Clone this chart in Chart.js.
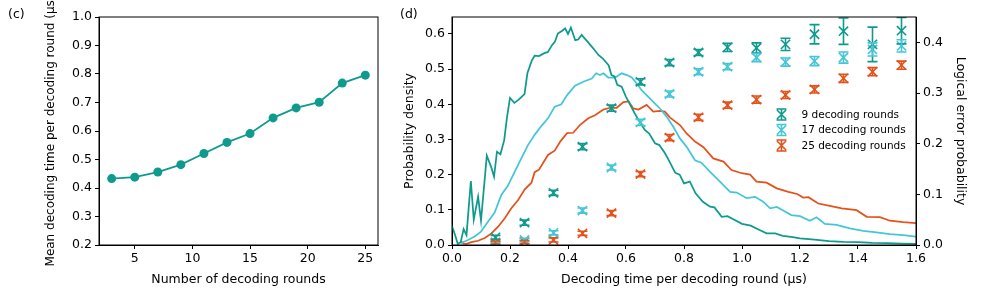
<!DOCTYPE html>
<html>
<head>
<meta charset="utf-8">
<script src="https://cdn.jsdelivr.net/npm/chart.js@4"></script>
<style>
  body { margin: 0; background: #fff; }
  #wrap { position: relative; width: 996px; height: 291px; }
  #c1 { position: absolute; left: 0; top: 0; }
  #c2 { position: absolute; left: 400px; top: 0; }
  .tag { position: absolute; top: 6px; font: 12.5px "DejaVu Sans"; color: #000; }
</style>
</head>
<body>
<div id="wrap">
  <canvas id="c1" width="400" height="291"></canvas>
  <canvas id="c2" width="596" height="291"></canvas>
  <div class="tag" style="left:8px">(c)</div>
  <div class="tag" style="left:400px">(d)</div>
</div>
<script>
// panel (c)
const rounds = [3, 5, 7, 9, 11, 13, 15, 17, 19, 21, 23, 25];
const meanTime = [0.433, 0.438, 0.456, 0.482, 0.521, 0.560, 0.591, 0.646, 0.681, 0.701, 0.768, 0.796];
const roundTicks = [5, 10, 15, 20, 25];
const meanTicks = [0.2, 0.3, 0.4, 0.5, 0.6, 0.7, 0.8, 0.9, 1.0];

// panel (d): density curves
const times9 = [0.00,0.01,0.02,0.03,0.04,0.05,0.065,0.075,0.09,0.10,0.12,0.135,0.145,0.155,0.167,0.18,0.19,0.20,0.215,0.23,0.25,0.26,0.275,0.285,0.30,0.32,0.33,0.345,0.355,0.365,0.38,0.39,0.40,0.41,0.425,0.435,0.447,0.465,0.487,0.505,0.52,0.54,0.55,0.56,0.57,0.585,0.60,0.615,0.63,0.65,0.665,0.68,0.70,0.715,0.735,0.75,0.77,0.785,0.80,0.82,0.84,0.865,0.89,0.905,0.93,0.95,0.97,1.00,1.03,1.055,1.085,1.115,1.14,1.17,1.20,1.25,1.30,1.35,1.40,1.45,1.50,1.55,1.60];
const dens9 = [0.054,0.030,0.003,0.008,0.045,0.028,0.182,0.072,0.137,0.069,0.254,0.222,0.194,0.265,0.258,0.298,0.365,0.418,0.404,0.413,0.429,0.488,0.524,0.538,0.537,0.546,0.548,0.568,0.578,0.601,0.609,0.616,0.600,0.618,0.582,0.584,0.597,0.580,0.559,0.540,0.530,0.511,0.483,0.479,0.455,0.450,0.421,0.398,0.374,0.346,0.327,0.317,0.289,0.284,0.260,0.237,0.205,0.200,0.175,0.180,0.147,0.123,0.109,0.107,0.080,0.082,0.073,0.060,0.055,0.045,0.033,0.033,0.026,0.023,0.019,0.015,0.011,0.009,0.008,0.006,0.005,0.004,0.003];
const times17 = [0.03,0.055,0.078,0.10,0.124,0.147,0.17,0.193,0.216,0.239,0.262,0.285,0.308,0.331,0.354,0.377,0.397,0.424,0.453,0.482,0.497,0.51,0.522,0.539,0.563,0.585,0.603,0.62,0.637,0.654,0.671,0.694,0.717,0.74,0.763,0.786,0.809,0.838,0.86,0.89,0.924,0.959,0.982,1.016,1.045,1.073,1.097,1.12,1.148,1.17,1.2,1.234,1.257,1.286,1.326,1.372,1.418,1.464,1.51,1.556,1.6];
const dens17 = [0.005,0.014,0.024,0.038,0.066,0.092,0.142,0.169,0.208,0.246,0.284,0.313,0.338,0.36,0.393,0.40,0.426,0.453,0.464,0.473,0.488,0.483,0.488,0.476,0.476,0.488,0.483,0.476,0.459,0.44,0.426,0.407,0.388,0.365,0.336,0.303,0.279,0.241,0.234,0.208,0.18,0.151,0.149,0.133,0.137,0.123,0.104,0.108,0.095,0.085,0.082,0.069,0.079,0.06,0.057,0.047,0.04,0.036,0.031,0.028,0.024];
const times25 = [0.03,0.04,0.05,0.067,0.09,0.113,0.136,0.159,0.182,0.204,0.228,0.251,0.274,0.285,0.30,0.331,0.354,0.375,0.397,0.418,0.441,0.47,0.493,0.522,0.545,0.568,0.591,0.609,0.625,0.643,0.671,0.694,0.717,0.734,0.752,0.786,0.809,0.838,0.867,0.901,0.936,0.964,0.999,1.028,1.05,1.085,1.12,1.16,1.19,1.211,1.229,1.263,1.303,1.344,1.395,1.43,1.476,1.51,1.556,1.6];
const dens25 = [0.012,0.004,0.003,0.008,0.012,0.02,0.033,0.052,0.076,0.104,0.128,0.158,0.177,0.207,0.214,0.256,0.268,0.296,0.318,0.319,0.341,0.36,0.369,0.385,0.39,0.39,0.406,0.408,0.388,0.385,0.398,0.379,0.381,0.379,0.362,0.341,0.317,0.294,0.278,0.246,0.237,0.213,0.204,0.2,0.18,0.177,0.161,0.151,0.145,0.135,0.136,0.118,0.111,0.104,0.099,0.08,0.079,0.069,0.065,0.062];

// panel (d): logical error probability per time bin
const binCenters = [0.15,0.25,0.35,0.45,0.55,0.65,0.75,0.85,0.95,1.05,1.15,1.25,1.35,1.45,1.55];
const lep9 = [0.015,0.044,0.103,0.194,0.270,0.322,0.360,0.380,0.390,0.389,0.396,0.416,0.422,0.396,0.423];
const lep17 = [0.003,0.010,0.024,0.068,0.153,0.242,0.298,0.342,0.352,0.370,0.361,0.363,0.370,0.386,0.393];
const lep25 = [0.005,0.006,0.010,0.023,0.063,0.140,0.212,0.252,0.276,0.287,0.296,0.307,0.329,0.342,0.355];
const lepErr9 = [0.004,0.005,0.005,0.006,0.006,0.006,0.006,0.006,0.008,0.010,0.012,0.019,0.026,0.034,0.026];
const lepErr17 = [0.002,0.003,0.004,0.005,0.005,0.006,0.006,0.006,0.006,0.008,0.008,0.009,0.011,0.013,0.012];
const lepErr25 = [0.003,0.003,0.004,0.004,0.005,0.005,0.006,0.006,0.006,0.007,0.007,0.007,0.008,0.008,0.008];
const timeTicks = [0, 0.2, 0.4, 0.6, 0.8, 1.0, 1.2, 1.4, 1.6];
const densTicks = [0, 0.1, 0.2, 0.3, 0.4, 0.5, 0.6];
const lepTicks = [0, 0.1, 0.2, 0.3, 0.4];
const seriesNames = ["9 decoding rounds", "17 decoding rounds", "25 decoding rounds"];

const TEAL = "#0f9a8e", CYAN = "#45c6d8", ORANGE = "#e4521b";

Chart.defaults.font.family = "DejaVu Sans";
Chart.defaults.font.size = 12.5;
Chart.defaults.color = "#000";
Chart.defaults.animation = false;

const pairs = (xs, ys) => xs.map((x, i) => ({ x: x, y: ys[i] }));
const setTicks = arr => scale => { scale.ticks = arr.map(v => ({ value: v })); };

function axisStyle(extra) {
  return Object.assign({
    border: { display: true, color: "#000", width: 1 },
    grid: { drawOnChartArea: false, drawTicks: true, tickLength: 4, color: "#000" },
  }, extra);
}

// full frame like matplotlib spines
const frame = {
  id: "frame",
  afterDraw(chart) {
    const { ctx, chartArea: a } = chart;
    ctx.save();
    ctx.strokeStyle = "#000";
    ctx.lineWidth = 1;
    ctx.strokeRect(a.left, a.top, a.right - a.left, a.bottom - a.top);
    ctx.restore();
  }
};

function drawErrIcon(ctx, x, y, col) {
  ctx.strokeStyle = col;
  ctx.lineWidth = 1.6;
  ctx.beginPath();
  ctx.moveTo(x, y - 5.5); ctx.lineTo(x, y + 5.5);
  ctx.moveTo(x - 5, y - 5.5); ctx.lineTo(x + 5, y - 5.5);
  ctx.moveTo(x - 5, y + 5.5); ctx.lineTo(x + 5, y + 5.5);
  ctx.moveTo(x - 4.5, y - 4.5); ctx.lineTo(x + 4.5, y + 4.5);
  ctx.moveTo(x - 4.5, y + 4.5); ctx.lineTo(x + 4.5, y - 4.5);
  ctx.stroke();
}

const errorBars = {
  id: "errorBars",
  afterDatasetsDraw(chart) {
    const { ctx, chartArea: a } = chart;
    ctx.save();
    ctx.beginPath();
    ctx.rect(a.left, a.top, a.right - a.left, a.bottom - a.top);
    ctx.clip();
    chart.data.datasets.forEach((ds, i) => {
      if (!ds.errors) return;
      const ys = chart.scales[ds.yAxisID];
      const meta = chart.getDatasetMeta(i);
      ctx.strokeStyle = ds.borderColor;
      ctx.lineWidth = 1.6;
      meta.data.forEach((pt, j) => {
        const v = ds.data[j].y, e = ds.errors[j];
        const y1 = ys.getPixelForValue(v - e), y2 = ys.getPixelForValue(v + e);
        ctx.beginPath();
        ctx.moveTo(pt.x, y1); ctx.lineTo(pt.x, y2);
        ctx.moveTo(pt.x - 5, y1); ctx.lineTo(pt.x + 5, y1);
        ctx.moveTo(pt.x - 5, y2); ctx.lineTo(pt.x + 5, y2);
        ctx.stroke();
      });
    });
    ctx.restore();
  }
};

const legendBox = {
  id: "legendBox",
  afterDraw(chart) {
    const ctx = chart.ctx;
    const cols = [TEAL, CYAN, ORANGE];
    ctx.save();
    ctx.font = "10.5px 'DejaVu Sans'";
    ctx.textBaseline = "middle";
    ctx.fillStyle = "#000";
    seriesNames.forEach((name, i) => {
      const y = 114.5 + i * 15.5;
      drawErrIcon(ctx, 381.5, y, cols[i]);
      ctx.fillText(name, 401.5, y + 0.5);
    });
    ctx.restore();
  }
};

new Chart(document.getElementById("c1"), {
  type: "line",
  data: {
    datasets: [{
      data: pairs(rounds, meanTime),
      borderColor: TEAL,
      backgroundColor: TEAL,
      borderWidth: 1.75,
      pointRadius: 4.5,
      pointBorderWidth: 0,
      tension: 0
    }]
  },
  options: {
    responsive: false,
    layout: { padding: { left: 40, top: 17, right: 22, bottom: 0 } },
    plugins: { legend: { display: false }, tooltip: { enabled: false } },
    scales: {
      x: axisStyle({
        type: "linear", min: 1.9, max: 26.1,
        afterBuildTicks: setTicks(roundTicks),
        afterFit: s => { s.height = 46; },
        ticks: { padding: 2 },
        title: { display: true, text: "Number of decoding rounds", padding: { top: 0, bottom: 4 } }
      }),
      y: axisStyle({
        min: 0.2, max: 1.0,
        afterBuildTicks: setTicks(meanTicks),
        afterFit: s => { s.width = 59; },
        ticks: { padding: 3, callback: v => v.toFixed(1) },
        title: { display: true, text: "Mean decoding time per decoding round (μs)", font: { size: 12 }, padding: { top: 4, bottom: 0 } }
      })
    }
  },
  plugins: [frame]
});

const lineDs = (label, xs, ys, col) => ({
  type: "line", label, data: pairs(xs, ys), yAxisID: "y",
  borderColor: col, borderWidth: 1.75, pointRadius: 0, tension: 0, order: 3
});
const errDs = (label, ys, errs, col) => ({
  type: "scatter", label, data: pairs(binCenters, ys), errors: errs, yAxisID: "y2",
  borderColor: col, backgroundColor: col, pointStyle: "crossRot",
  pointRadius: 6.5, pointBorderWidth: 1.6, order: 1
});

new Chart(document.getElementById("c2"), {
  type: "line",
  data: {
    datasets: [
      lineDs("9", times9, dens9, TEAL),
      lineDs("17", times17, dens17, CYAN),
      lineDs("25", times25, dens25, ORANGE),
      errDs(seriesNames[0], lep9, lepErr9, TEAL),
      errDs(seriesNames[1], lep17, lepErr17, CYAN),
      errDs(seriesNames[2], lep25, lepErr25, ORANGE)
    ]
  },
  options: {
    responsive: false,
    layout: { padding: { left: 0, top: 17, right: 24.5, bottom: 0 } },
    plugins: { legend: { display: false }, tooltip: { enabled: false } },
    scales: {
      x: axisStyle({
        type: "linear", min: 0, max: 1.6,
        afterBuildTicks: setTicks(timeTicks),
        afterFit: s => { s.height = 46; },
        ticks: { padding: 2, callback: v => v.toFixed(1) },
        title: { display: true, text: "Decoding time per decoding round (μs)", padding: { top: 0, bottom: 4 } }
      }),
      y: axisStyle({
        position: "left", min: 0, max: 0.648,
        afterBuildTicks: setTicks(densTicks),
        afterFit: s => { s.width = 52; },
        ticks: { padding: 3, callback: v => v.toFixed(1) },
        title: { display: true, text: "Probability density", padding: { top: 2.5, bottom: 0 } }
      }),
      y2: axisStyle({
        position: "right", min: 0, max: 0.45,
        afterBuildTicks: setTicks(lepTicks),
        afterFit: s => { s.width = 55.5; },
        ticks: { padding: 3, callback: v => v.toFixed(1) },
        title: { display: true, text: "Logical error probability", padding: { top: 4, bottom: 0 } }
      })
    }
  },
  plugins: [frame, errorBars, legendBox]
});
</script>
</body>
</html>
